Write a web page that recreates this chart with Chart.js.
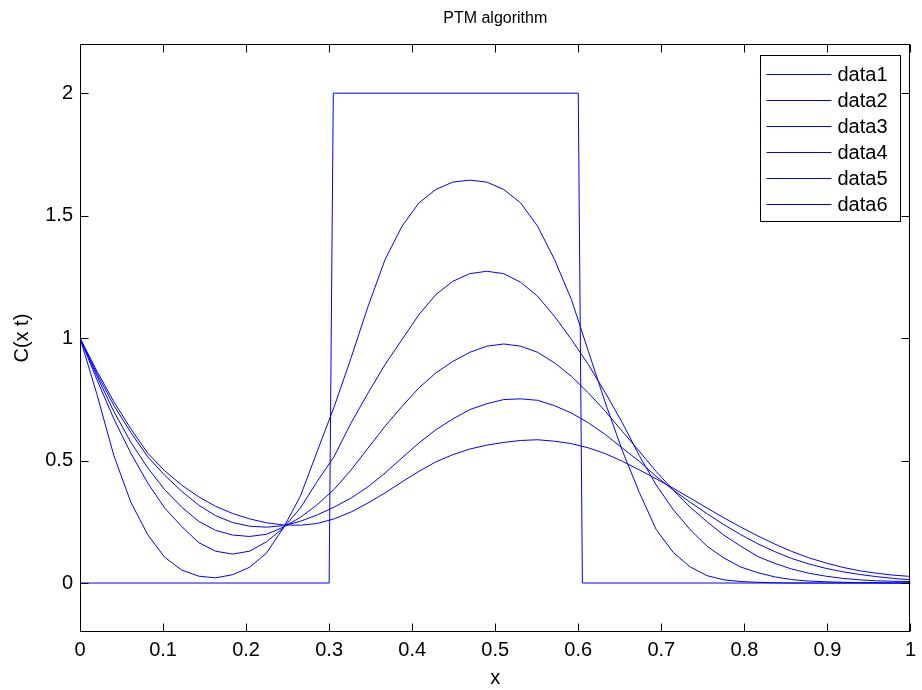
<!DOCTYPE html>
<html>
<head>
<meta charset="utf-8">
<title>PTM algorithm</title>
<script src="https://cdn.jsdelivr.net/npm/chart.js@4.4.1/dist/chart.umd.min.js"></script>
<style>
  html, body { margin: 0; padding: 0; background: #fff; }
  #wrap { width: 922px; height: 690px; }
</style>
</head>
<body>
<div id="wrap"><canvas id="ptmChart" width="922" height="690"></canvas></div>
<script>

// ---------------- DATA ----------------

const seriesNames = ["data1", "data2", "data3", "data4", "data5", "data6"];

const xTicks = [0, 0.1, 0.2, 0.3, 0.4, 0.5, 0.6, 0.7, 0.8, 0.9, 1];
const yTicks = [0, 0.5, 1, 1.5, 2];

// square pulse (data1)
const pulseX = [0, 0.3, 0.305, 0.6, 0.605, 1];
const pulseY = [0, 0, 2, 2, 0, 0];

// grid used by the other curves
const xGrid = [
  0, 0.0204, 0.0408, 0.0612, 0.0816, 0.1020, 0.1224, 0.1429, 0.1633, 0.1837,
  0.2041, 0.2245, 0.2449, 0.2653, 0.2857, 0.3061, 0.3265, 0.3469, 0.3673, 0.3878,
  0.4082, 0.4286, 0.4490, 0.4694, 0.4898, 0.5102, 0.5306, 0.5510, 0.5714, 0.5918,
  0.6122, 0.6327, 0.6531, 0.6735, 0.6939, 0.7143, 0.7347, 0.7551, 0.7755, 0.7959,
  0.8163, 0.8367, 0.8571, 0.8776, 0.8980, 0.9184, 0.9388, 0.9592, 0.9796, 1
];

const data2 = [
  1.0, 0.77, 0.52, 0.33, 0.197, 0.105, 0.053, 0.028, 0.021, 0.034,
  0.064, 0.122, 0.225, 0.354, 0.538, 0.72, 0.92, 1.13, 1.32, 1.457,
  1.552, 1.607, 1.637, 1.645, 1.637, 1.607, 1.552, 1.457, 1.321, 1.157,
  0.946, 0.735, 0.54, 0.37, 0.218, 0.125, 0.066, 0.030, 0.013, 0.006,
  0.003, 0.001, 0, 0, 0, 0, 0, 0, 0, 0
];

const data3 = [
  1.0, 0.83, 0.67, 0.53, 0.408, 0.306, 0.231, 0.165, 0.13, 0.118,
  0.13, 0.168, 0.225, 0.306, 0.415, 0.517, 0.654, 0.776, 0.892, 0.994,
  1.096, 1.178, 1.232, 1.263, 1.273, 1.263, 1.228, 1.171, 1.089, 0.994,
  0.892, 0.776, 0.654, 0.52, 0.40, 0.30, 0.218, 0.15, 0.102, 0.065,
  0.042, 0.025, 0.014, 0.008, 0.005, 0.003, 0.002, 0.001, 0, 0
];

const data4 = [
  1.0, 0.845, 0.70, 0.575, 0.47, 0.381, 0.31, 0.252, 0.215, 0.196,
  0.19, 0.199, 0.228, 0.268, 0.32, 0.383, 0.462, 0.551, 0.64, 0.721,
  0.797, 0.858, 0.905, 0.942, 0.967, 0.976, 0.967, 0.942, 0.899, 0.844,
  0.776, 0.701, 0.619, 0.538, 0.455, 0.38, 0.31, 0.25, 0.195, 0.15,
  0.108, 0.08, 0.057, 0.04, 0.028, 0.019, 0.013, 0.009, 0.007, 0.006
];

const data5 = [
  1.0, 0.855, 0.725, 0.615, 0.515, 0.44, 0.375, 0.318, 0.275, 0.247,
  0.232, 0.228, 0.234, 0.252, 0.278, 0.31, 0.347, 0.393, 0.449, 0.511,
  0.572, 0.626, 0.67, 0.708, 0.732, 0.749, 0.752, 0.746, 0.724, 0.694,
  0.654, 0.606, 0.551, 0.497, 0.435, 0.38, 0.33, 0.283, 0.238, 0.197,
  0.16, 0.128, 0.1, 0.078, 0.06, 0.046, 0.035, 0.026, 0.019, 0.013
];

const data6 = [
  1.0, 0.865, 0.74, 0.63, 0.53, 0.458, 0.40, 0.352, 0.313, 0.284,
  0.262, 0.246, 0.237, 0.236, 0.243, 0.262, 0.29, 0.327, 0.368, 0.413,
  0.456, 0.495, 0.524, 0.547, 0.563, 0.574, 0.582, 0.585, 0.579, 0.569,
  0.552, 0.528, 0.497, 0.462, 0.425, 0.387, 0.347, 0.306, 0.266, 0.228,
  0.192, 0.159, 0.129, 0.103, 0.082, 0.064, 0.05, 0.04, 0.032, 0.027
];


// ---------------- DATASETS ----------------

const lineColor = "#0000ff";

function toPoints(xs, ys) {
  return xs.map((x, i) => ({ x: x, y: ys[i] }));
}

const curves = [
  toPoints(pulseX, pulseY),
  toPoints(xGrid, data2),
  toPoints(xGrid, data3),
  toPoints(xGrid, data4),
  toPoints(xGrid, data5),
  toPoints(xGrid, data6)
];

const datasets = curves.map((pts, i) => ({
  label: seriesNames[i],
  data: pts,
  borderColor: lineColor,
  borderWidth: 1,
  pointRadius: 0,
  tension: 0,
  fill: false
}));


// ---------------- FRAME, TICKS, LEGEND ----------------

const TICK = 8;

const matlabFrame = {
  id: "matlabFrame",

  afterDatasetsDraw(chart) {

    const { ctx, chartArea: a, scales } = chart;
    const left = Math.round(a.left) + 0.5;
    const right = Math.round(a.right) - 0.5;
    const top = Math.round(a.top) + 0.5;
    const bottom = Math.round(a.bottom) - 0.5;

    ctx.save();
    ctx.lineWidth = 1;
    ctx.strokeStyle = "#000";

    // box
    ctx.strokeRect(left, top, right - left, bottom - top);

    // inward ticks on all four sides
    ctx.beginPath();
    xTicks.forEach(v => {
      const px = Math.round(scales.x.getPixelForValue(v)) + 0.5;
      ctx.moveTo(px, bottom); ctx.lineTo(px, bottom - TICK);
      ctx.moveTo(px, top); ctx.lineTo(px, top + TICK);
    });
    yTicks.forEach(v => {
      const py = Math.round(scales.y.getPixelForValue(v)) + 0.5;
      ctx.moveTo(left, py); ctx.lineTo(left + TICK, py);
      ctx.moveTo(right, py); ctx.lineTo(right - TICK, py);
    });
    ctx.stroke();

    // legend box in the top right corner
    const lgRight = right - 9;
    const lgLeft = lgRight - 140;
    const lgTop = top + 11;
    const lgBottom = lgTop + 166;
    const rowGap = 26;
    const rowY = i => Math.round(lgTop + 18) + i * rowGap + 0.5;

    ctx.fillStyle = "#fff";
    ctx.fillRect(lgLeft, lgTop, lgRight - lgLeft, lgBottom - lgTop);
    ctx.strokeStyle = "#000";
    ctx.strokeRect(lgLeft, lgTop, lgRight - lgLeft, lgBottom - lgTop);

    // sample lines
    chart.data.datasets.forEach((ds, i) => {
      ctx.beginPath();
      ctx.strokeStyle = ds.borderColor;
      ctx.moveTo(lgLeft + 6, rowY(i));
      ctx.lineTo(lgLeft + 71, rowY(i));
      ctx.stroke();
    });

    // labels
    ctx.font = "20px 'Liberation Sans', Arial, sans-serif";
    ctx.textBaseline = "middle";
    ctx.textAlign = "left";
    ctx.fillStyle = "#000";
    chart.data.datasets.forEach((ds, i) => {
      ctx.fillText(ds.label, lgLeft + 77, rowY(i) + 1);
    });

    ctx.restore();
  }
};


// ---------------- CHART ----------------

Chart.defaults.font.family = "'Liberation Sans', Arial, sans-serif";
Chart.defaults.font.size = 20;
Chart.defaults.color = "#000";

new Chart(document.getElementById("ptmChart"), {

  type: "line",

  data: { datasets: datasets },

  options: {
    responsive: false,
    animation: false,
    devicePixelRatio: 1,

    layout: {
      padding: { left: 0, right: 11, top: 0, bottom: 0 }
    },

    plugins: {
      legend: { display: false },
      tooltip: { enabled: false },
      title: {
        display: true,
        text: "PTM algorithm",
        fullSize: false,
        color: "#000",
        font: { size: 16, weight: "normal" },
        padding: { top: 9, bottom: 16 }
      }
    },

    scales: {

      x: {
        type: "linear",
        min: 0,
        max: 1,
        grid: { display: false, drawTicks: false },
        border: { display: false },
        ticks: {
          padding: 6,
          maxRotation: 0,
          callback: v => String(v)
        },
        afterBuildTicks: s => { s.ticks = xTicks.map(v => ({ value: v })); },
        afterFit: s => { s.height = 58; },
        title: {
          display: true,
          text: "x",
          padding: { top: 0, bottom: 0 }
        }
      },

      y: {
        type: "linear",
        min: -0.2,
        max: 2.2,
        grid: { display: false, drawTicks: false },
        border: { display: false },
        ticks: {
          padding: 7,
          callback: v => String(v)
        },
        afterBuildTicks: s => { s.ticks = yTicks.map(v => ({ value: v })); },
        afterFit: s => { s.width = 80; },
        title: {
          display: true,
          text: "C(x t)",
          padding: { top: 10, bottom: 0 }
        }
      }
    }
  },

  plugins: [matlabFrame]
});

</script>
</body>
</html>
